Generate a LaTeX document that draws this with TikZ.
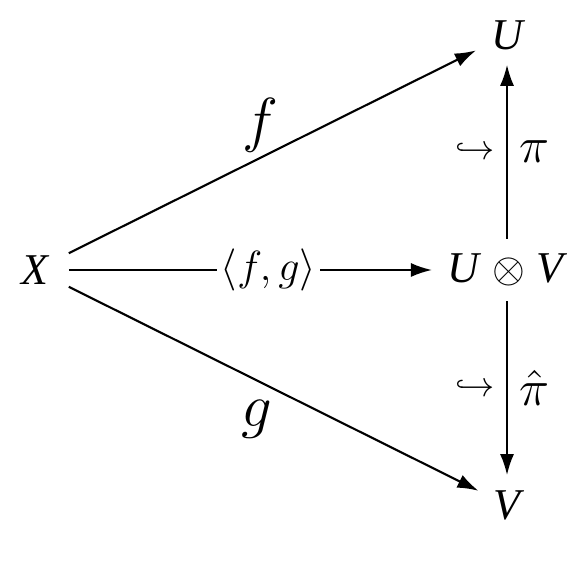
\documentclass[tikz,border=0pt]{standalone}
\usepackage{fontspec}
\setmainfont{Liberation Serif}
\usetikzlibrary{positioning, arrows.meta}

\begin{document}
\begin{tikzpicture}[x=0.01cm, y=-0.01cm, font=\fontsize{12.5}{14}\selectfont, line width=0.6pt,
	>={Latex[length=6pt, width=4pt]},
	obj/.style={inner sep=4pt},
	lbl/.style={font=\fontsize{14}{16}\selectfont},
	hook/.style={font=\fontsize{10}{12}\selectfont}]
	\useasboundingbox (0, 0) rectangle (567, 568);
	\node[obj, inner sep=5.5pt] (X) at (35, 270) {\itshape X};
	\node[obj] (U) at (507, 35) {\itshape U};
	\node[obj] (UV) at (505, 270) {\itshape U\/ $\otimes$ V};
	\node[obj] (V) at (507, 505) {\itshape V};
	% diagonal maps
	\draw[->] (X) -- (U) node[pos=0.47, above=-2pt, font=\fontsize{17}{19}\selectfont] {$f$};
	\draw[->] (X) -- (V) node[pos=0.46, below=2pt, font=\fontsize{17}{19}\selectfont] {$g$};
	% pairing
	\draw[->] (X) -- (UV) node[pos=0.55, fill=white, inner sep=1pt, font=\fontsize{13}{15}\selectfont] {$\langle f, g\rangle$};
	% projections
	\draw[->] (UV.north -| U) -- (U)
		node[midway, left, hook] {$\hookrightarrow$}
		node[midway, right, lbl] {$\pi$};
	\draw[->] (UV.south -| V) -- (V)
		node[midway, left, hook] {$\hookrightarrow$}
		node[midway, right, lbl] {$\hat{\pi}$};
\end{tikzpicture}
\end{document}
